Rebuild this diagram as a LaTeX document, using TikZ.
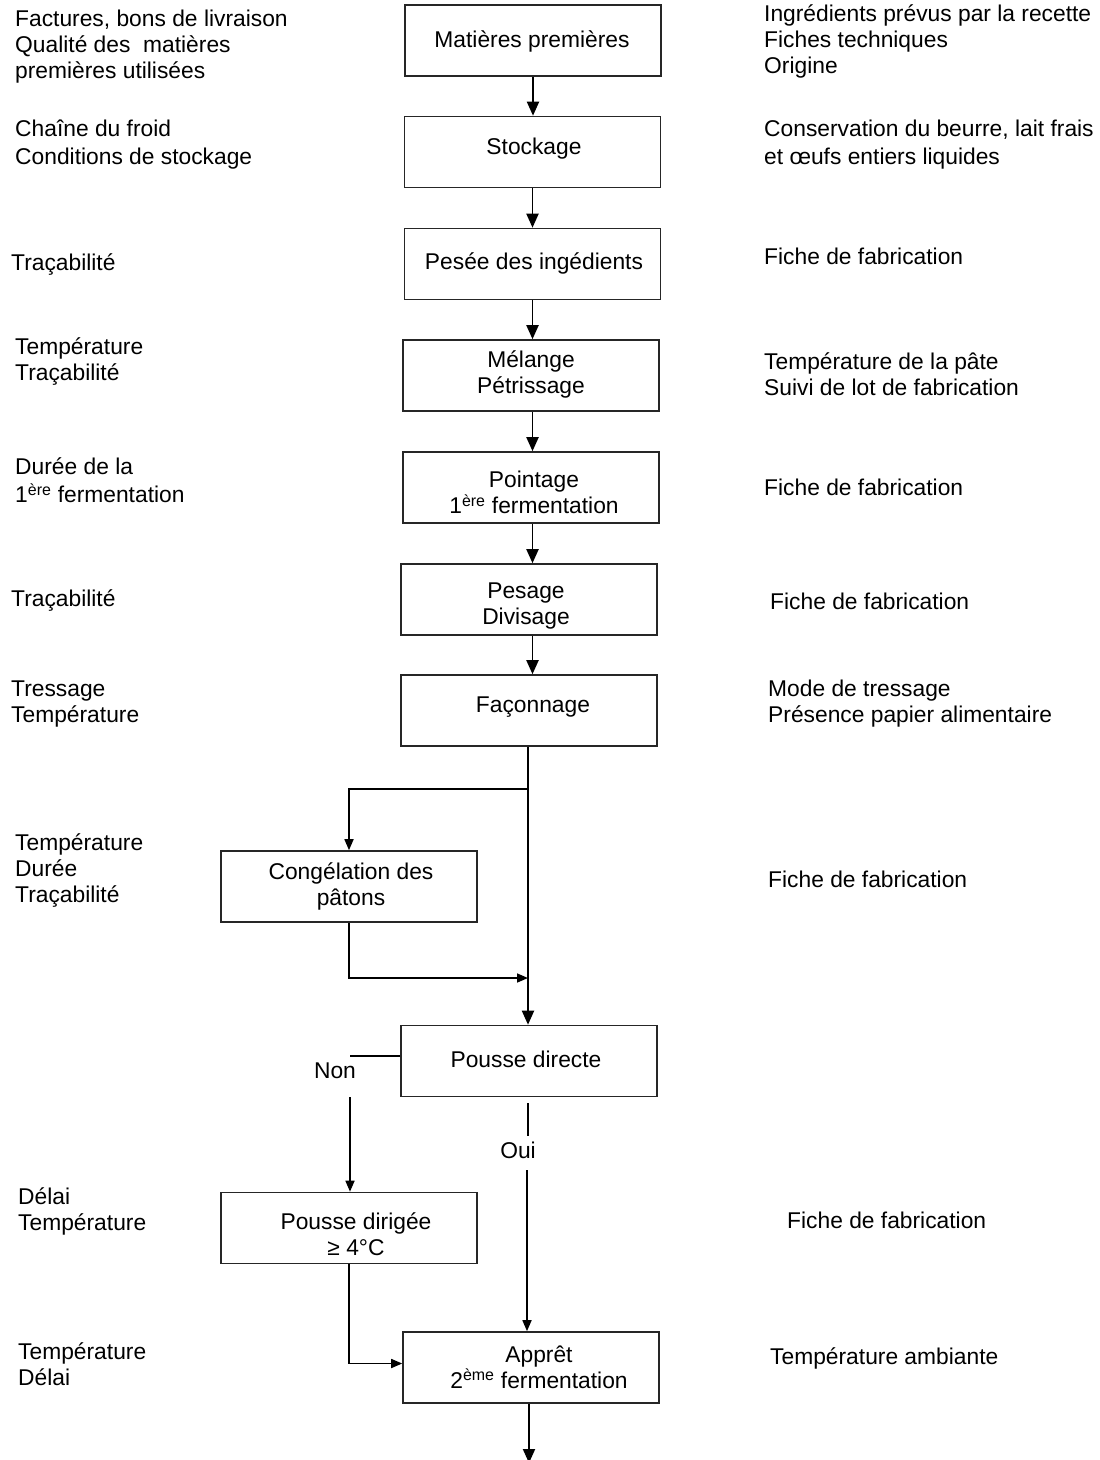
\documentclass[tikz,border=0pt]{standalone}
\usepackage{fontspec}
\setmainfont{Liberation Sans}
\usetikzlibrary{arrows.meta}
\begin{document}
\begin{tikzpicture}[x=1pt,y=-1pt,
  every node/.style={inner sep=0pt, font=\fontsize{22.8}{26}\selectfont},
  box/.style={draw=black!85, line width=1.6pt, minimum width=256pt, minimum height=71pt},
  ltxt/.style={anchor=west, align=left, yshift=-3pt},
  ctxt/.style={align=center, yshift=-3pt},
  conn/.style={line width=1.8pt},
  arr/.style={line width=1.9pt, -{Triangle[length=14pt,width=12pt]}},
  sarr/.style={line width=1.6pt, -{Triangle[length=11pt,width=9pt]}}]
\useasboundingbox (0,0) rectangle (1100,1460);
\fill[white] (0,0) rectangle (1100,1460);

% boxes
\node[box] (b1) at (533,40.5) {};
\node[box] (b2) at (532.5,152) {};
\node[box] (b3) at (532.5,264) {};
\node[box] (b4) at (531,375.5) {};
\node[box] (b5) at (531,487.5) {};
\node[box] (b6) at (529,599.5) {};
\node[box] (b7) at (529,710.5) {};
\node[box] (b8) at (349,886.5) {};
\node[box] (b9) at (529,1061) {};
\node[box] (b10) at (349,1228) {};
\node[box] (b11) at (531,1367.5) {};

% box texts
\node[ctxt] (t1) at (532,38) {Matières premières};
\node[ctxt] (t2) at (534,146) {Stockage};
\node[ctxt] (t3) at (534,260) {Pesée des ingédients};
\node[ctxt] (t4) at (531,371) {Mélange\\Pétrissage};
\node[ctxt] (t5) at (534,489.5) {Pointage\\1\textsuperscript{ère} fermentation};
\node[ctxt] (t6) at (526,603) {Pesage\\Divisage};
\node[ctxt] (t7) at (533,704) {Façonnage};
\node[ctxt] (t8) at (351,883) {Congélation des\\pâtons};
\node[ctxt] (t9) at (526,1056) {Pousse directe};
\node[ctxt] (t10) at (356,1231) {Pousse dirigée\\≥ 4°C};
\node[ctxt] (t11) at (539,1364) {Apprêt\\2\textsuperscript{ème} fermentation};

% left texts
\node[ltxt] (l1) at (15,44) {Factures, bons de livraison\\Qualité des \ matières\\premières utilisées};
\node[ltxt] (l2) at (15,142) {Chaîne du froid\\[2pt]Conditions de stockage};
\node[ltxt] (l3) at (11,262) {Traçabilité};
\node[ltxt] (l4) at (15,359) {Température\\Traçabilité};
\node[ltxt] (l5) at (15,477.5) {Durée de la\\[2pt]1\textsuperscript{ère} fermentation};
\node[ltxt] (l6) at (11,598) {Traçabilité};
\node[ltxt] (l7) at (11,701) {Tressage\\Température};
\node[ltxt] (l8) at (15,868) {Température\\Durée\\Traçabilité};
\node[ltxt] (l9) at (18,1208) {Délai\\Température};
\node[ltxt] (l10) at (18,1361) {Température\\Délai};

% right texts
\node[ltxt] (r1) at (764,38) {Ingrédients prévus par la recette\\Fiches techniques\\Origine};
\node[ltxt] (r2) at (764,142) {Conservation du beurre, lait frais\\[2pt]et œufs entiers liquides};
\node[ltxt] (r3) at (764,253) {Fiche de fabrication};
\node[ltxt] (r4) at (764,371) {Température de la pâte\\Suivi de lot de fabrication};
\node[ltxt] (r5) at (764,484) {Fiche de fabrication};
\node[ltxt] (r6) at (770,598) {Fiche de fabrication};
\node[ltxt] (r7) at (768,701) {Mode de tressage\\Présence papier alimentaire};
\node[ltxt] (r8) at (768,876) {Fiche de fabrication};
\node[ltxt] (r9) at (787,1217) {Fiche de fabrication};
\node[ltxt] (r10) at (770,1355) {Température ambiante};

% decision labels
\node (non) at (335,1071) {Non};
\node (oui) at (518,1150) {Oui};

% coordinates
\coordinate (br1) at (528,789);
\coordinate (j1) at (528,978);
\coordinate (n1) at (350,1056);
\coordinate (n2) at (350,1097);
\coordinate (o1) at (528,1103);
\coordinate (o2) at (528,1136);
\coordinate (o3) at (527,1170);
\coordinate (endc) at (529,1463);

% main connectors
\draw[arr] (b1.south) -- (b1.south |- b2.north);
\draw[arr] (b2.south) -- (b2.south |- b3.north);
\draw[arr] (b3.south) -- (b3.south |- b4.north);
\draw[arr] (b4.south -| b3.south) -- (b3.south |- b5.north);
\draw[arr] (b5.south -| b3.south) -- (b3.south |- b6.north);
\draw[arr] (b6.south -| b3.south) -- (b3.south |- b7.north);
\draw[arr] (br1 |- b7.south) -- (br1 |- b9.north);
\draw[sarr] (br1) -| (b8.north);
\draw[sarr] (b8.south) |- (j1);
\draw[conn, line width=1.4pt] ([yshift=5pt]b9.west) -- (n1);
\draw[sarr] (n2) -- (n2 |- b10.north);
\draw[conn, line width=1.4pt] (o1) -- (o2);
\draw[sarr] (o3) -- (o3 |- b11.north);
\draw[sarr] (b10.south) |- ([yshift=4pt]b11.west);
\draw[arr] (endc |- b11.south) -- (endc);
\end{tikzpicture}
\end{document}
